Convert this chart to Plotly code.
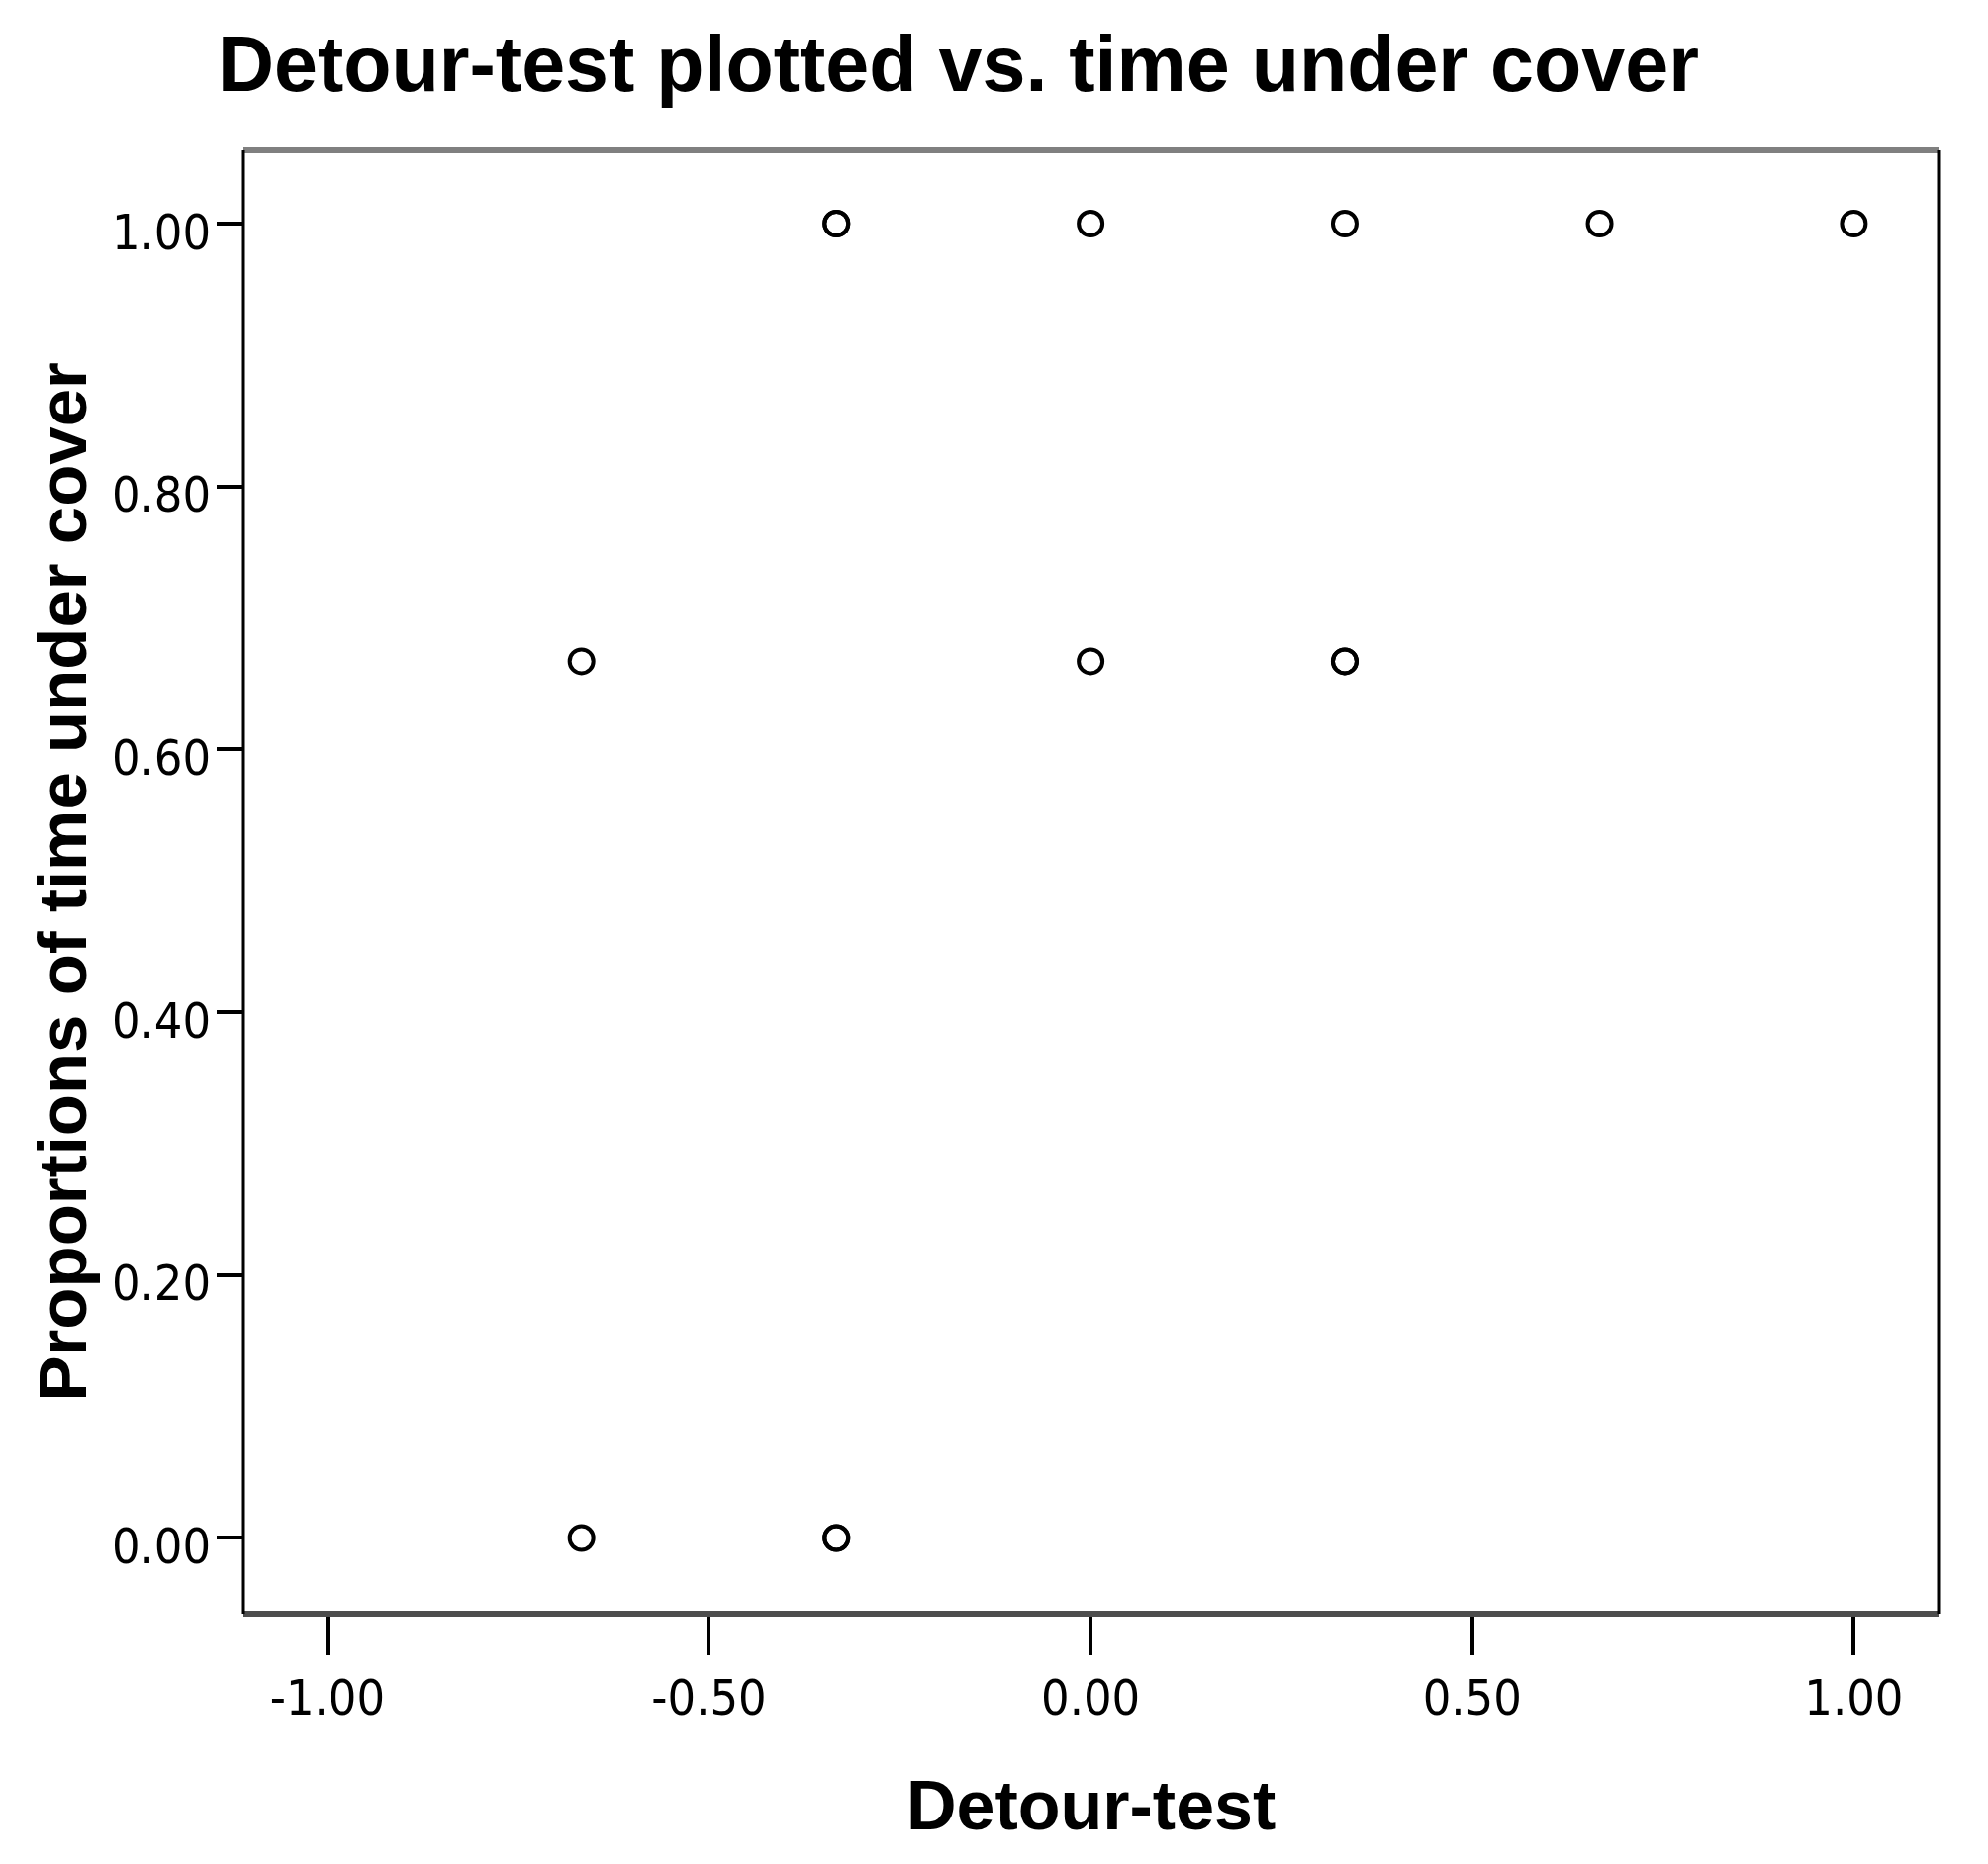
import plotly.graph_objects as go

# detour-test score vs proportion of time spent under cover
detour = [-0.667, -0.667, -0.333, -0.333, -0.333, -0.333, 0.0, 0.0, 0.333, 0.333, 0.333, 0.667, 1.0]
cover = [0.667, 0.0, 1.0, 1.0, 0.0, 0.0, 1.0, 0.667, 1.0, 0.667, 0.667, 1.0, 1.0]

x_ticks = [-1.0, -0.5, 0.0, 0.5, 1.0]
x_labels = ["-1.00", "-0.50", "0.00", "0.50", "1.00"]
y_ticks = [0.0, 0.2, 0.4, 0.6, 0.8, 1.0]
y_labels = ["0.00", "0.20", "0.40", "0.60", "0.80", "1.00"]

# the page body has an 8px margin, so the figure is shrunk by that much
PAD = 8
W, H = 2009 - PAD, 1884 - PAD
L, R, T, B = 246 - PAD, 50, 152 - PAD, 253
pw, ph = W - L - R, H - T - B
plot_left, plot_bottom = 246, 1631  # screen pixels

tick_font = dict(family="DejaVu Sans Condensed, DejaVu Sans", size=50, color="black")
title_font = dict(family="Liberation Sans, Arial", size=70, color="black")

fig = go.Figure(
    go.Scatter(
        x=detour,
        y=cover,
        mode="markers",
        marker=dict(
            symbol="circle-open",
            size=24,
            color="black",
            line=dict(color="black", width=4),
        ),
        showlegend=False,
        hoverinfo="x+y",
    )
)

fig.update_layout(
    width=W,
    height=H,
    paper_bgcolor="white",
    plot_bgcolor="white",
    margin=dict(l=L, r=R, t=T, b=B),
    title=dict(
        text="<b>Detour-test plotted vs. time under cover</b>",
        font=dict(family="Liberation Sans, Arial", size=79, color="black"),
        xref="container",
        x=(220 - PAD) / W,
        xanchor="left",
        yref="container",
        y=1 - (64 - PAD) / H,
        yanchor="middle",
    ),
    annotations=[
        dict(
            text="<b>Detour-test</b>",
            font=title_font,
            xref="paper",
            yref="paper",
            x=0.5,
            y=(plot_bottom - 1825) / ph,
            xanchor="center",
            yanchor="middle",
            showarrow=False,
        ),
        dict(
            text="<b>Proportions of time under cover</b>",
            font=dict(family="Liberation Sans, Arial", size=69, color="black"),
            textangle=-90,
            xref="paper",
            yref="paper",
            x=(63 - plot_left) / pw,
            y=0.5,
            xanchor="center",
            yanchor="middle",
            showarrow=False,
        ),
    ],
    shapes=[
        dict(type="line", xref="paper", yref="paper", x0=0, x1=1, y0=1, y1=1,
             line=dict(color="#808080", width=6), layer="above"),
        dict(type="line", xref="paper", yref="paper", x0=0, x1=1, y0=0, y1=0,
             line=dict(color="#4d4d4d", width=6), layer="above"),
        dict(type="line", xref="paper", yref="paper", x0=0, x1=0, y0=0, y1=1,
             line=dict(color="black", width=3), layer="above"),
        dict(type="line", xref="paper", yref="paper", x0=1, x1=1, y0=0, y1=1,
             line=dict(color="black", width=3), layer="above"),
    ],
)

fig.update_xaxes(
    range=[-1.11, 1.111],
    tickvals=x_ticks,
    ticktext=x_labels,
    ticks="outside",
    ticklen=41,
    tickwidth=4,
    tickcolor="black",
    tickfont=tick_font,
    showgrid=False,
    zeroline=False,
    showline=False,
)
fig.update_yaxes(
    range=[-0.0576, 1.0557],
    tickvals=y_ticks,
    ticktext=y_labels,
    ticks="outside",
    ticklen=26,
    tickwidth=3.5,
    tickcolor="black",
    tickfont=tick_font,
    ticklabelshift=8,
    ticklabelstandoff=-4,
    showgrid=False,
    zeroline=False,
    showline=False,
)

fig.write_html("out.html")
